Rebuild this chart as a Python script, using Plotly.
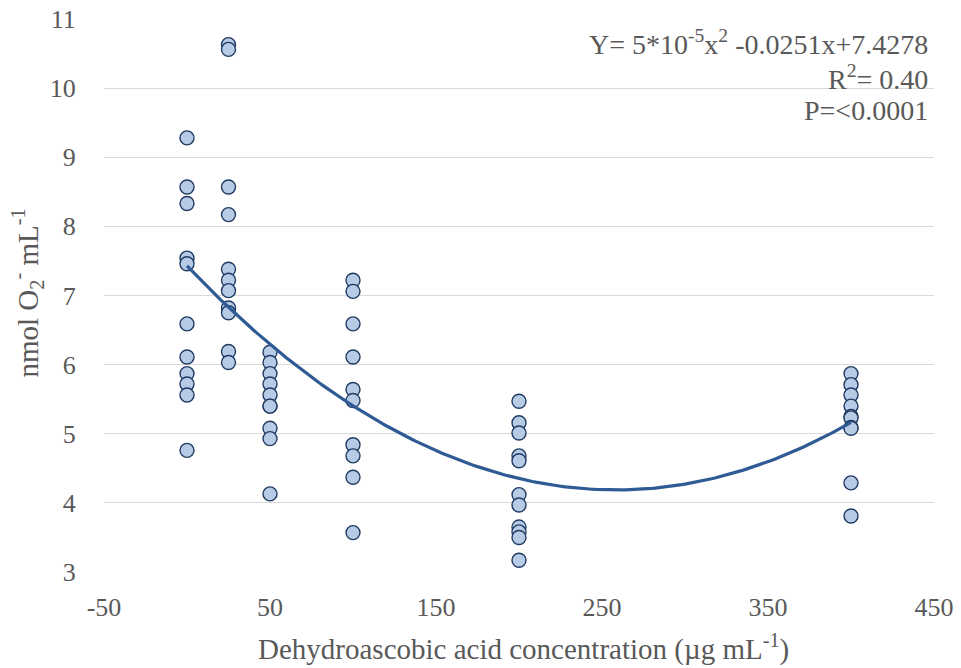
import numpy as np
import plotly.graph_objects as go

# Dehydroascorbic acid dose (µg/mL) and superoxide readings (nmol O2- /mL)
conc_0 = [0] * 11
o2_0 = [9.28, 8.57, 8.33, 7.54, 7.46, 6.59, 6.11, 5.87, 5.72, 5.56, 4.76]
conc_25 = [25] * 11
o2_25 = [10.63, 10.56, 8.57, 8.17, 7.38, 7.22, 7.07, 6.82, 6.75, 6.19, 6.03]
conc_50 = [50] * 10
o2_50 = [6.18, 6.03, 5.87, 5.72, 5.56, 5.40, 5.40, 5.08, 4.93, 4.13]
conc_100 = [100] * 10
o2_100 = [7.22, 7.06, 6.59, 6.11, 5.64, 5.48, 4.84, 4.68, 4.37, 3.57]
conc_200 = [200] * 11
o2_200 = [5.47, 5.16, 5.01, 4.68, 4.61, 4.12, 3.97, 3.65, 3.58, 3.50, 3.17]
conc_400 = [400] * 10
o2_400 = [5.87, 5.71, 5.56, 5.40, 5.25, 5.23, 5.09, 5.08, 4.29, 3.81]

# Quadratic trend: a*x^2 + b*x + c
trend_a = 4.86e-5
trend_b = -0.0251
trend_c = 7.4278
r_squared = 0.40
p_text = "P=<0.0001"

x_ticks = [-50, 50, 150, 250, 350, 450]
y_ticks = [3, 4, 5, 6, 7, 8, 9, 10, 11]

x_title = "Dehydroascobic acid concentration (µg mL<sup>-1</sup>)"
y_title = "nmol O<sub>2</sub><sup>-</sup> mL<sup>-1</sup>"

x_all = conc_0 + conc_25 + conc_50 + conc_100 + conc_200 + conc_400
y_all = o2_0 + o2_25 + o2_50 + o2_100 + o2_200 + o2_400

xs = np.linspace(0, 400, 201)
ys = trend_a * xs ** 2 + trend_b * xs + trend_c

FONT = "Liberation Serif, Times New Roman, serif"
TXT = "#595959"

fig = go.Figure()
fig.add_trace(go.Scatter(
    x=x_all, y=y_all, mode="markers",
    marker=dict(size=14, color="#B7CBE6",
                line=dict(color="#203B62", width=1.4)),
    showlegend=False, hoverinfo="x+y",
))
fig.add_trace(go.Scatter(
    x=xs, y=ys, mode="lines",
    line=dict(color="#2F5B94", width=3.2),
    showlegend=False, hoverinfo="skip",
))

# Equation, fit quality and significance, right-aligned in the top corner
a_exp = int(np.floor(np.log10(abs(trend_a))))
a_mant = round(trend_a / 10 ** a_exp)
eq = (f"Y= {a_mant}*10<sup>{a_exp}</sup>x<sup>2</sup> "
      f"{trend_b:.4f}x+{trend_c:.4f}")
rows = [eq, f"R<sup>2</sup>= {r_squared:.2f}", p_text]
row_px = [42, 77, 110]
for t, py in zip(rows, row_px):
    fig.add_annotation(
        x=1.0, xref="paper", xanchor="right", xshift=-4,
        y=1.0, yref="paper", yanchor="middle", yshift=-(py - 19),
        text=t, showarrow=False,
        font=dict(family=FONT, size=28, color=TXT),
    )

# Axis titles
fig.add_annotation(
    x=0.5, xref="paper", xanchor="center", xshift=4,
    y=0.0, yref="paper", yanchor="middle", yshift=-(647 - 572),
    text=x_title, showarrow=False,
    font=dict(family=FONT, size=29, color=TXT),
)
fig.add_annotation(
    x=0.0, xref="paper", xanchor="center", xshift=-(104 - 27),
    y=0.5, yref="paper", yanchor="middle", yshift=2,
    text=y_title, textangle=-90, showarrow=False,
    font=dict(family=FONT, size=29, color=TXT),
)

fig.update_layout(
    width=961, height=668,
    margin=dict(l=104, r=27, t=19, b=96),
    paper_bgcolor="white", plot_bgcolor="white",
    font=dict(family=FONT, color=TXT, size=26),
    xaxis=dict(
        range=[-50, 450], tickvals=x_ticks, ticktext=[str(v) for v in x_ticks],
        showgrid=False, zeroline=False, showline=False,
        ticks="outside", ticklen=12, tickcolor="rgba(0,0,0,0)",
        tickfont=dict(size=26, color=TXT), automargin=False,
    ),
    yaxis=dict(
        range=[3, 11], tickvals=y_ticks,
        showgrid=True, gridcolor="#D9D9D9", gridwidth=1.4,
        zeroline=False, showline=False,
        ticks="outside", ticklen=22, tickcolor="rgba(0,0,0,0)",
        tickfont=dict(size=26, color=TXT), automargin=False,
    ),
)

fig.write_html("out.html")
